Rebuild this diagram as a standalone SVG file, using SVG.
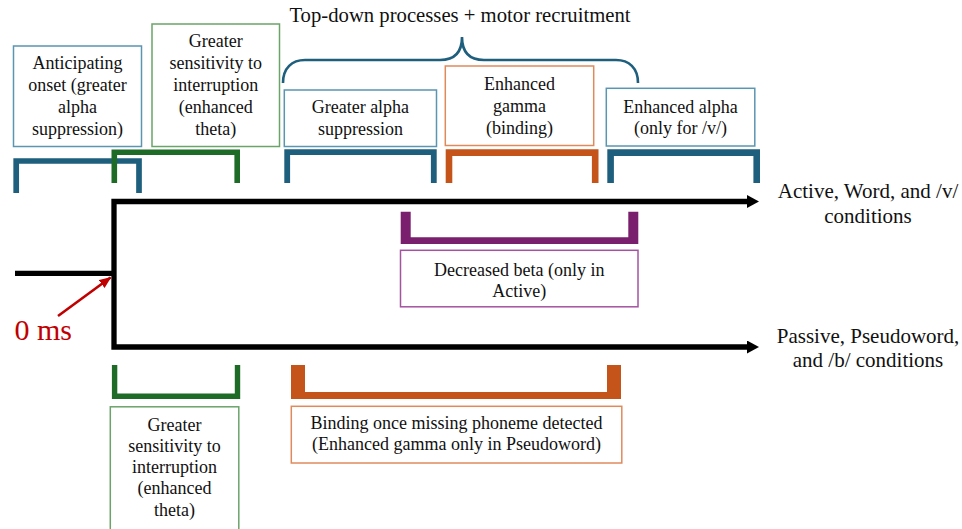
<svg xmlns="http://www.w3.org/2000/svg" width="962" height="529" viewBox="0 0 962 529" font-family="'Liberation Serif', serif">
  <style>
    text { font-family: "Liberation Serif", serif; fill: #111; text-anchor: middle; }
    .lbl { font-size: 18px; }
    .big { font-size: 21px; }
    .ttl { font-size: 20.7px; }
    .box { fill: #fff; stroke-width: 1.5; }
    .bx-blue { stroke: #5B95B2; }
    .bx-green { stroke: #6AA46A; }
    .bx-orange { stroke: #E08A5C; }
    .bx-purple { stroke: #A353A0; }
    .brk { fill: none; stroke-linejoin: miter; stroke-linecap: butt; }
    .br-blue { stroke: #1F5F7E; }
    .br-green { stroke: #1E6B28; }
    .br-orange { stroke: #C4541A; }
    .fill-purple { fill: #7A1F6E; }
    .fill-orange { fill: #C4541A; }
    .timeline { fill: none; stroke: #000; stroke-width: 5.3; stroke-linejoin: miter; }
    .zero { font-size: 30px; fill: #C00000; text-anchor: start; }
  </style>
  <defs>
    <marker id="headBlack" markerUnits="userSpaceOnUse" viewBox="0 0 12 13" markerWidth="12" markerHeight="13" refX="1" refY="6.5" orient="auto-start-reverse">
      <path d="M0,0 L12,6.5 L0,13 Z" fill="#000"/>
    </marker>
    <marker id="headRed" markerUnits="userSpaceOnUse" viewBox="0 0 12 10" markerWidth="12" markerHeight="10" refX="11" refY="5" orient="auto">
      <path d="M0,0 L12,5 L0,10 Z" fill="#C00000"/>
    </marker>
  </defs>

  <rect width="962" height="529" fill="#fff"/>

  <!-- Title and brace -->
  <g id="title">
    <text class="ttl" x="460" y="22">Top-down processes + motor recruitment</text>
    <path d="M283,83 C283,68 292,60 305,60 L440,60 C452,60 462,55 462,37 C462,55 472,60 484,60 L616,60 C629,60 638,68 638,83" fill="none" stroke="#1F5F7E" stroke-width="2.6"/>
  </g>

  <!-- Timeline connectors -->
  <g id="connectors">
    <path class="timeline" d="M15,273.3 H114"/>
    <path class="timeline" d="M748,201.5 H114 V347 H748" marker-start="url(#headBlack)" marker-end="url(#headBlack)"/>
    <line x1="58" y1="316" x2="110.5" y2="277.5" stroke="#C00000" stroke-width="2.6" marker-end="url(#headRed)"/>
    <text class="zero" x="14.5" y="340">0 ms</text>
  </g>

  <!-- Upper brackets -->
  <g id="brackets-top">
    <path class="brk br-blue" stroke-width="5.7" d="M16.2,193 V161 H139 V193"/>
    <path class="brk br-green" stroke-width="5.6" d="M114.3,183 V152.2 H237.2 V183"/>
    <path class="brk br-blue" stroke-width="5.8" d="M287.2,183 V152.2 H433.8 V183"/>
    <path class="brk br-orange" stroke-width="6.6" d="M449,183 V152.6 H595.2 V183"/>
    <path class="brk br-blue" stroke-width="6.6" d="M610.6,183 V152.6 H756.7 V183"/>
  </g>

  <!-- Lower brackets -->
  <g id="brackets-bottom">
    <path class="fill-purple" d="M400.7,211.7 H410.7 V237.3 H628.3 V211.7 H638.3 V244 H400.7 Z"/>
    <path class="brk br-green" stroke-width="5.4" d="M114.6,365 V396.3 H237.5 V365"/>
    <path class="fill-orange" d="M291,365 H305 V392 H607 V365 H621 V399 H291 Z"/>
  </g>

  <g id="anticipating">
    <rect class="box bx-blue" x="13.5" y="46" width="128" height="100.5"/>
    <text class="lbl" x="77.5" y="69">Anticipating</text>
    <text class="lbl" x="77.5" y="91">onset (greater</text>
    <text class="lbl" x="77.5" y="113">alpha</text>
    <text class="lbl" x="77.5" y="135">suppression)</text>
  </g>

  <g id="theta-top">
    <rect class="box bx-green" x="152" y="24" width="127.5" height="122.5"/>
    <text class="lbl" x="215.8" y="47">Greater</text>
    <text class="lbl" x="215.8" y="69">sensitivity to</text>
    <text class="lbl" x="215.8" y="91">interruption</text>
    <text class="lbl" x="215.8" y="113">(enhanced</text>
    <text class="lbl" x="215.8" y="135">theta)</text>
  </g>

  <g id="alpha-suppression">
    <rect class="box bx-blue" x="284.3" y="90" width="152.2" height="56.5"/>
    <text class="lbl" x="360.4" y="113">Greater alpha</text>
    <text class="lbl" x="360.4" y="135">suppression</text>
  </g>

  <g id="gamma-binding">
    <rect class="box bx-orange" x="445.3" y="66" width="148.4" height="79.5"/>
    <text class="lbl" x="519.5" y="90">Enhanced</text>
    <text class="lbl" x="519.5" y="112">gamma</text>
    <text class="lbl" x="519.5" y="134">(binding)</text>
  </g>

  <g id="alpha-v">
    <rect class="box bx-blue" x="606.3" y="88.3" width="148.5" height="57.7"/>
    <text class="lbl" x="680.5" y="113">Enhanced alpha</text>
    <text class="lbl" x="680.5" y="134">(only for /v/)</text>
  </g>

  <g id="beta-active">
    <rect class="box bx-purple" x="400.5" y="250.3" width="237.5" height="56.5"/>
    <text class="lbl" x="519.3" y="276">Decreased beta (only in</text>
    <text class="lbl" x="519.3" y="297">Active)</text>
  </g>

  <g id="theta-bottom">
    <rect class="box bx-green" x="110.3" y="406.8" width="128.5" height="130"/>
    <text class="lbl" x="174.5" y="431">Greater</text>
    <text class="lbl" x="174.5" y="452">sensitivity to</text>
    <text class="lbl" x="174.5" y="473">interruption</text>
    <text class="lbl" x="174.5" y="494">(enhanced</text>
    <text class="lbl" x="174.5" y="516">theta)</text>
  </g>

  <g id="binding-bottom">
    <rect class="box bx-orange" x="291.3" y="406.3" width="330.5" height="56.7"/>
    <text class="lbl" x="456.5" y="429">Binding once missing phoneme detected</text>
    <text class="lbl" x="456.5" y="450">(Enhanced gamma only in Pseudoword)</text>
  </g>

  <g id="cond-active">
    <text class="big" x="868" y="198">Active, Word, and /v/</text>
    <text class="big" x="868" y="222.5">conditions</text>
  </g>

  <g id="cond-passive">
    <text class="big" x="868" y="343">Passive, Pseudoword,</text>
    <text class="big" x="868" y="367">and /b/ conditions</text>
  </g>
</svg>
